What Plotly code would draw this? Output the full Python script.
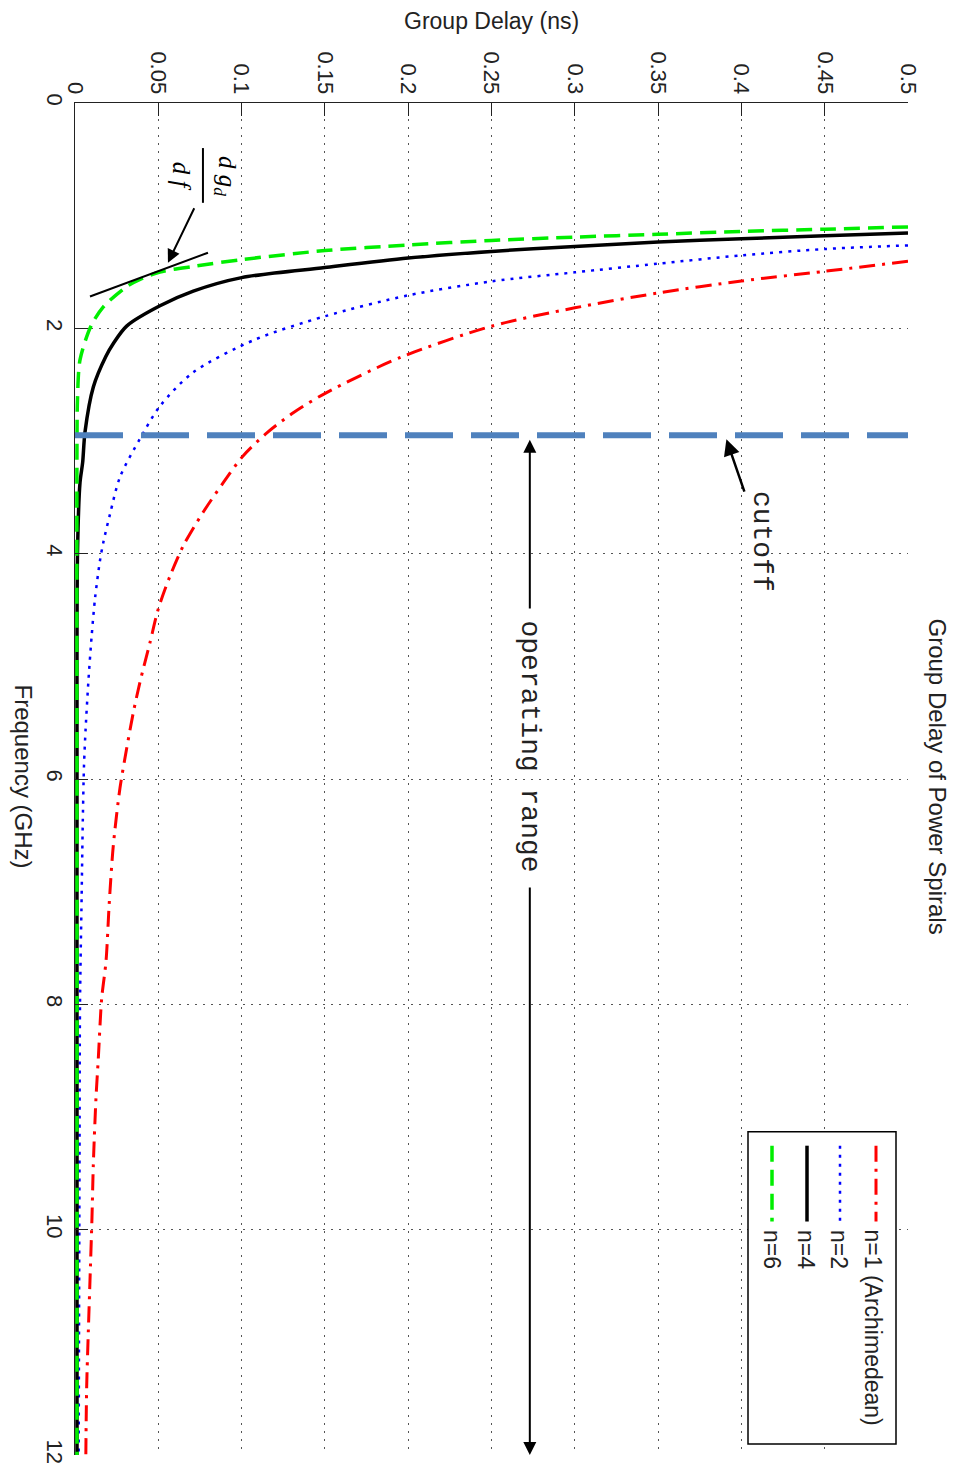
import plotly.graph_objects as go

# ---- data: group delay (ns) vs frequency (GHz) for power spirals ----
freq_n1 = [1.405, 1.494, 1.58, 1.686, 1.818, 1.981, 2.26, 2.57, 2.75, 2.93, 3.13, 3.37,
           3.63, 3.93, 4.20, 4.49, 4.79, 5.14, 5.41, 5.73, 6.08, 6.59, 7.09, 7.62, 7.95,
           8.48, 8.83, 9.42, 9.89, 10.45, 10.9, 11.4, 12.0]
gd_n1 = [0.50, 0.45, 0.40, 0.35, 0.30, 0.25, 0.195, 0.151, 0.131, 0.115, 0.101, 0.089,
         0.077, 0.065, 0.057, 0.050, 0.045, 0.039, 0.035, 0.031, 0.027, 0.023, 0.0206,
         0.0186, 0.016, 0.014, 0.0126, 0.011, 0.0102, 0.009, 0.008, 0.007, 0.0065]

freq_n2 = [1.264, 1.296, 1.352, 1.426, 1.503, 1.583, 1.707, 1.893, 2.10, 2.39, 2.69, 2.98,
           3.32, 3.65, 3.90, 4.06, 4.40, 4.73, 5.14, 5.55, 5.88, 6.44, 7.03, 8.0, 9.4, 12.0]
gd_n2 = [0.50, 0.45, 0.40, 0.35, 0.30, 0.25, 0.20, 0.15, 0.108, 0.071, 0.051, 0.039,
         0.027, 0.021, 0.017, 0.015, 0.012, 0.010, 0.008, 0.0064, 0.0054, 0.0046, 0.004,
         0.003, 0.0027, 0.0022]

freq_n4 = [1.154, 1.178, 1.205, 1.234, 1.273, 1.317, 1.376, 1.46, 1.55, 1.67, 1.80,
           1.98, 2.13, 2.25, 2.52, 2.92, 3.19, 3.37, 4.0, 6.0, 9.0, 12.0]
gd_n4 = [0.50, 0.45, 0.40, 0.35, 0.30, 0.25, 0.20, 0.15, 0.10, 0.071, 0.051, 0.031,
         0.0232, 0.0185, 0.011, 0.006, 0.0046, 0.003, 0.0015, 0.0012, 0.0012, 0.0012]

freq_n6 = [1.10, 1.12, 1.14, 1.165, 1.19, 1.22, 1.26, 1.31, 1.39, 1.45, 1.50, 1.56, 1.63,
           1.81, 1.98, 2.28, 2.63, 3.0, 6.0, 9.0, 12.0]
gd_n6 = [0.50, 0.45, 0.40, 0.35, 0.30, 0.25, 0.20, 0.15, 0.10, 0.071, 0.051, 0.040, 0.031,
         0.017, 0.0096, 0.003, 0.0015, 0.0012, 0.0012, 0.0012, 0.0012]

series_names = ["n=1 (Archimedean)", "n=2", "n=4", "n=6"]

cutoff_ghz = 2.95

gd_ticks = [0, 0.05, 0.1, 0.15, 0.2, 0.25, 0.3, 0.35, 0.4, 0.45, 0.5]
gd_tick_labels = ["0", "0.05", "0.1", "0.15", "0.2", "0.25", "0.3", "0.35", "0.4", "0.45", "0.5"]
freq_ticks = [0, 2, 4, 6, 8, 10, 12]
freq_tick_labels = ["0", "2", "4", "6", "8", "10", "12"]

# ---- styling ----
W, H = 955, 1476
ML, MR, MT, MB = 75, 47, 103, 18
PW, PH = W - ML - MR, H - MT - MB
SANS = "Liberation Sans, Arial, sans-serif"
MONO = "Liberation Mono, Courier New, monospace"
SERIF = "Liberation Serif, Times New Roman, serif"
INK = "#222"


def px(x, y):
    """pixel position on the page -> paper coordinates"""
    return (x - ML) / PW, 1 - (y - MT) / PH


styles = [
    dict(color="#ff0000", width=3, dash="16px,7px,3px,7px"),
    dict(color="#0000ff", width=2.5, dash="3px,6px"),
    dict(color="#000000", width=3.5, dash="solid"),
    dict(color="#00ee00", width=3.5, dash="16px,8px"),
]
series = [(freq_n1, gd_n1), (freq_n2, gd_n2), (freq_n4, gd_n4), (freq_n6, gd_n6)]

fig = go.Figure()
for (f, g), name, st in zip(series, series_names, styles):
    fig.add_trace(go.Scatter(x=g, y=f, mode="lines", name=name,
                             line=dict(shape="spline", smoothing=0.8, **st),
                             hoverinfo="skip"))

shapes = []
annotations = []


def page_text(x, y, text, size, angle=0, family=SANS):
    xp, yp = px(x, y)
    annotations.append(dict(xref="paper", yref="paper", x=xp, y=yp, text=text,
                            showarrow=False, textangle=angle, xanchor="center",
                            yanchor="middle", font=dict(family=family, size=size, color=INK)))


# cutoff line
shapes.append(dict(type="line", xref="x", yref="y", x0=0, x1=0.5, y0=cutoff_ghz,
                   y1=cutoff_ghz, line=dict(color="#4f81bd", width=6, dash="48px,18px")))

# axis titles and chart title
page_text(491, 21, "Group Delay (ns)", 23)
page_text(23, 778, "Frequency (GHz)", 24, angle=90)
page_text(937, 778, "Group Delay of Power Spirals", 24, angle=90)

# legend box
lx0, ly0 = px(748, 1134)
lx1, ly1 = px(896, 1447)
shapes.append(dict(type="rect", xref="paper", yref="paper", x0=lx0, x1=lx1, y0=ly1, y1=ly0,
                   fillcolor="white", line=dict(color="black", width=1.5), layer="above"))
legend_x = [876, 840, 807, 772]
legend_tx = [873, 839, 806, 772]
for lx, tx, name, st in zip(legend_x, legend_tx, series_names, styles):
    a = px(lx, 1148)
    b = px(lx, 1224)
    shapes.append(dict(type="line", xref="paper", yref="paper", x0=a[0], x1=b[0],
                       y0=a[1], y1=b[1], line=dict(color=st["color"], width=st["width"],
                                                   dash=st["dash"]), layer="above"))
    t = px(tx, 1230)
    annotations.append(dict(xref="paper", yref="paper", x=t[0], y=t[1], text=name,
                            showarrow=False, textangle=90, xanchor="center", yanchor="top",
                            font=dict(family=SANS, size=23, color=INK)))

# operating range annotation
op_gd = 0.273
annotations.append(dict(xref="x", yref="y", x=op_gd, y=5.71, text="operating range",
                        showarrow=False, textangle=90, xanchor="center", yanchor="middle",
                        font=dict(family=MONO, size=28, color=INK)))
annotations.append(dict(xref="x", yref="y", x=op_gd, y=2.99, ax=op_gd, ay=4.5,
                        axref="x", ayref="y", text="", showarrow=True, arrowhead=2,
                        arrowsize=1.3, arrowwidth=2, arrowcolor="black"))
annotations.append(dict(xref="x", yref="y", x=op_gd, y=12.0, ax=op_gd, ay=6.95,
                        axref="x", ayref="y", text="", showarrow=True, arrowhead=2,
                        arrowsize=1.3, arrowwidth=2, arrowcolor="black"))

# cutoff label with its arrow
annotations.append(dict(xref="x", yref="y", x=0.391, y=2.985, ax=0.412, ay=3.89,
                        axref="x", ayref="y", text="cutoff", showarrow=True,
                        textangle=90, arrowhead=2, arrowsize=1.3, arrowwidth=2.5,
                        arrowcolor="black", standoff=0,
                        font=dict(family=MONO, size=28, color=INK)))

# slope annotation d g_d / d f
annotations.append(dict(xref="x", yref="y", x=0.090, y=0.647,
                        text="<i>d g<sub>d</sub></i>", showarrow=False, textangle=90,
                        xanchor="center", yanchor="middle",
                        font=dict(family=SERIF, size=25, color="black")))
annotations.append(dict(xref="x", yref="y", x=0.0636, y=0.655, text="<i>d f</i>",
                        showarrow=False, textangle=90, xanchor="center", yanchor="middle",
                        font=dict(family=SERIF, size=25, color="black")))
shapes.append(dict(type="line", xref="x", yref="y", x0=0.0768, x1=0.0768, y0=0.40,
                   y1=0.886, line=dict(color="black", width=2)))
annotations.append(dict(xref="x", yref="y", x=0.0558, y=1.417, ax=0.072, ay=0.921,
                        axref="x", ayref="y", text="", showarrow=True, arrowhead=2,
                        arrowsize=1.3, arrowwidth=2, arrowcolor="black"))
shapes.append(dict(type="line", xref="x", yref="y", x0=0.009, x1=0.0798, y0=1.718,
                   y1=1.329, line=dict(color="black", width=2)))

axis_common = dict(
    showgrid=True, gridcolor="#555", gridwidth=1, griddash="2px,6px",
    zeroline=False, showline=True, linecolor=INK, linewidth=1.2,
    ticks="inside", ticklen=13, tickcolor=INK, tickwidth=1.2,
    tickangle=90, tickfont=dict(family=SANS, size=22, color=INK),
)

fig.update_layout(
    width=W, height=H,
    margin=dict(l=ML, r=MR, t=MT, b=MB, pad=0),
    plot_bgcolor="white", paper_bgcolor="white",
    showlegend=False,
    xaxis=dict(range=[0, 0.5], side="top", tickvals=gd_ticks, ticktext=gd_tick_labels,
               **axis_common),
    yaxis=dict(range=[12, 0], tickvals=freq_ticks, ticktext=freq_tick_labels,
               **axis_common),
    shapes=shapes,
    annotations=annotations,
)

fig.write_html("out.html")
